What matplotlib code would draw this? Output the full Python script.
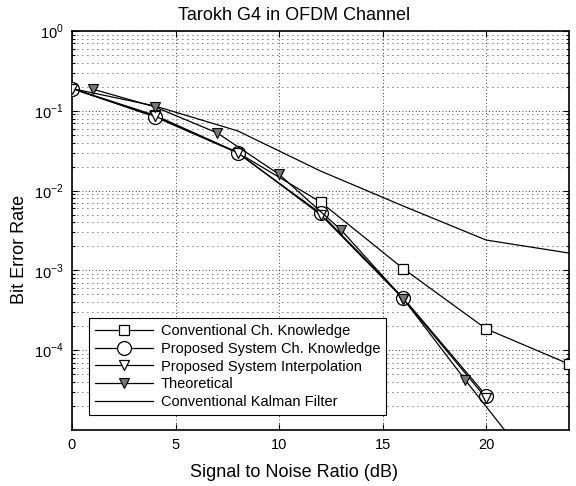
import matplotlib
matplotlib.use("Agg")
import matplotlib.pyplot as plt
import numpy as np
from matplotlib.ticker import LogLocator, NullFormatter, FixedLocator

plt.rcParams['font.family'] = ['Liberation Sans', 'DejaVu Sans']
plt.rcParams['mathtext.fontset'] = 'custom'
plt.rcParams['mathtext.rm'] = 'Liberation Sans'

# Data
snr_conv = [0, 4, 8, 12, 16, 20, 24]
ber_conv = [0.19, 0.088, 0.030, 7.2e-3, 1.05e-3, 1.85e-4, 6.7e-5]

snr_prop = [0, 4, 8, 12, 16, 20]
ber_prop = [0.19, 0.084, 0.0296, 5.2e-3, 4.5e-4, 2.7e-5]

snr_interp = [0, 4, 8, 12, 16, 20]
ber_interp = [0.19, 0.086, 0.030, 5.0e-3, 4.4e-4, 2.5e-5]

snr_theo = [1, 4, 7, 10, 13, 16, 19, 22]
ber_theo = [0.187, 0.112, 0.053, 0.016, 3.2e-3, 4.4e-4, 4.2e-5, 4.3e-6]

snr_kal = [0, 4, 8, 12, 16, 20, 24]
ber_kal = [0.19, 0.115, 0.056, 0.0176, 6.4e-3, 2.4e-3, 1.65e-3]

labels = ["Conventional Ch. Knowledge",
          "Proposed System Ch. Knowledge",
          "Proposed System Interpolation",
          "Theoretical",
          "Conventional Kalman Filter"]

title = "Tarokh G4 in OFDM Channel"
xlabel = "Signal to Noise Ratio (dB)"
ylabel = "Bit Error Rate"
xticks = [0, 5, 10, 15, 20]
yticks = [1e0, 1e-1, 1e-2, 1e-3, 1e-4]
ytick_labels = [r"$10^{0}$", r"$10^{-1}$", r"$10^{-2}$", r"$10^{-3}$", r"$10^{-4}$"]

fig = plt.figure(figsize=(5.76, 4.86), dpi=100)
ax = fig.add_axes([72/576, 1-430/486, (569-72)/576, (430-31)/486])

lw = 0.9
ax.semilogy(snr_conv, ber_conv, '-', color='black', lw=lw, marker='s', ms=7,
            mfc='white', mec='black', mew=0.9, label=labels[0], zorder=3)
ax.semilogy(snr_prop, ber_prop, '-', color='black', lw=lw, marker='o', ms=10,
            mfc='white', mec='black', mew=0.9, label=labels[1], zorder=3)
ax.semilogy(snr_interp, ber_interp, '-', color='black', lw=lw, marker='v', ms=7,
            mfc='white', mec='black', mew=0.9, label=labels[2], zorder=4)
ax.semilogy(snr_theo, ber_theo, '-', color='black', lw=lw, marker='v', ms=7,
            mfc='#777777', mec='black', mew=0.8, label=labels[3], zorder=4)
ax.semilogy(snr_kal, ber_kal, '-', color='black', lw=lw, label=labels[4], zorder=3)

ax.set_xlim(0, 24)
ax.set_ylim(1e-5, 1e0)

ax.xaxis.set_major_locator(FixedLocator(xticks))
ax.set_xticklabels([str(t) for t in xticks])
ax.yaxis.set_major_locator(FixedLocator(yticks))
ax.set_yticklabels(ytick_labels)
ax.yaxis.set_minor_locator(LogLocator(base=10, subs=np.arange(2, 10), numticks=20))
ax.yaxis.set_minor_formatter(NullFormatter())

ax.tick_params(which='both', direction='in', top=True, right=True,
               labelsize=10.5, width=0.8)
ax.tick_params(which='major', length=4)
ax.tick_params(which='minor', length=2)
ax.tick_params(axis='x', pad=6)
ax.tick_params(axis='y', pad=6)

ax.grid(True, which='major', axis='both', linestyle=(0, (1, 3)), color='black', lw=0.6)
ax.grid(True, which='minor', axis='y', linestyle=(0, (1, 5)), color='black', lw=0.6)

for s in ax.spines.values():
    s.set_linewidth(1.2)

fig.text(294/576, 1-15/486, title, ha='center', va='center', fontsize=13)
ax.set_xlabel(xlabel, fontsize=13, va='center')
ax.xaxis.set_label_coords((294-72)/497, -(472-430)/399)
ax.set_ylabel(ylabel, fontsize=13, va='center')
ax.yaxis.set_label_coords(-(72-20)/497, (430-249)/399)

leg = ax.legend(loc='lower left', bbox_to_anchor=((82-72)/497, (430-422)/399),
                fontsize=10.5, frameon=True, fancybox=False, edgecolor='black',
                framealpha=1, handlelength=4.0, labelspacing=0.25,
                borderpad=0.4, handletextpad=0.5)
leg.get_frame().set_linewidth(0.8)

fig.savefig("out.png", dpi=100)
